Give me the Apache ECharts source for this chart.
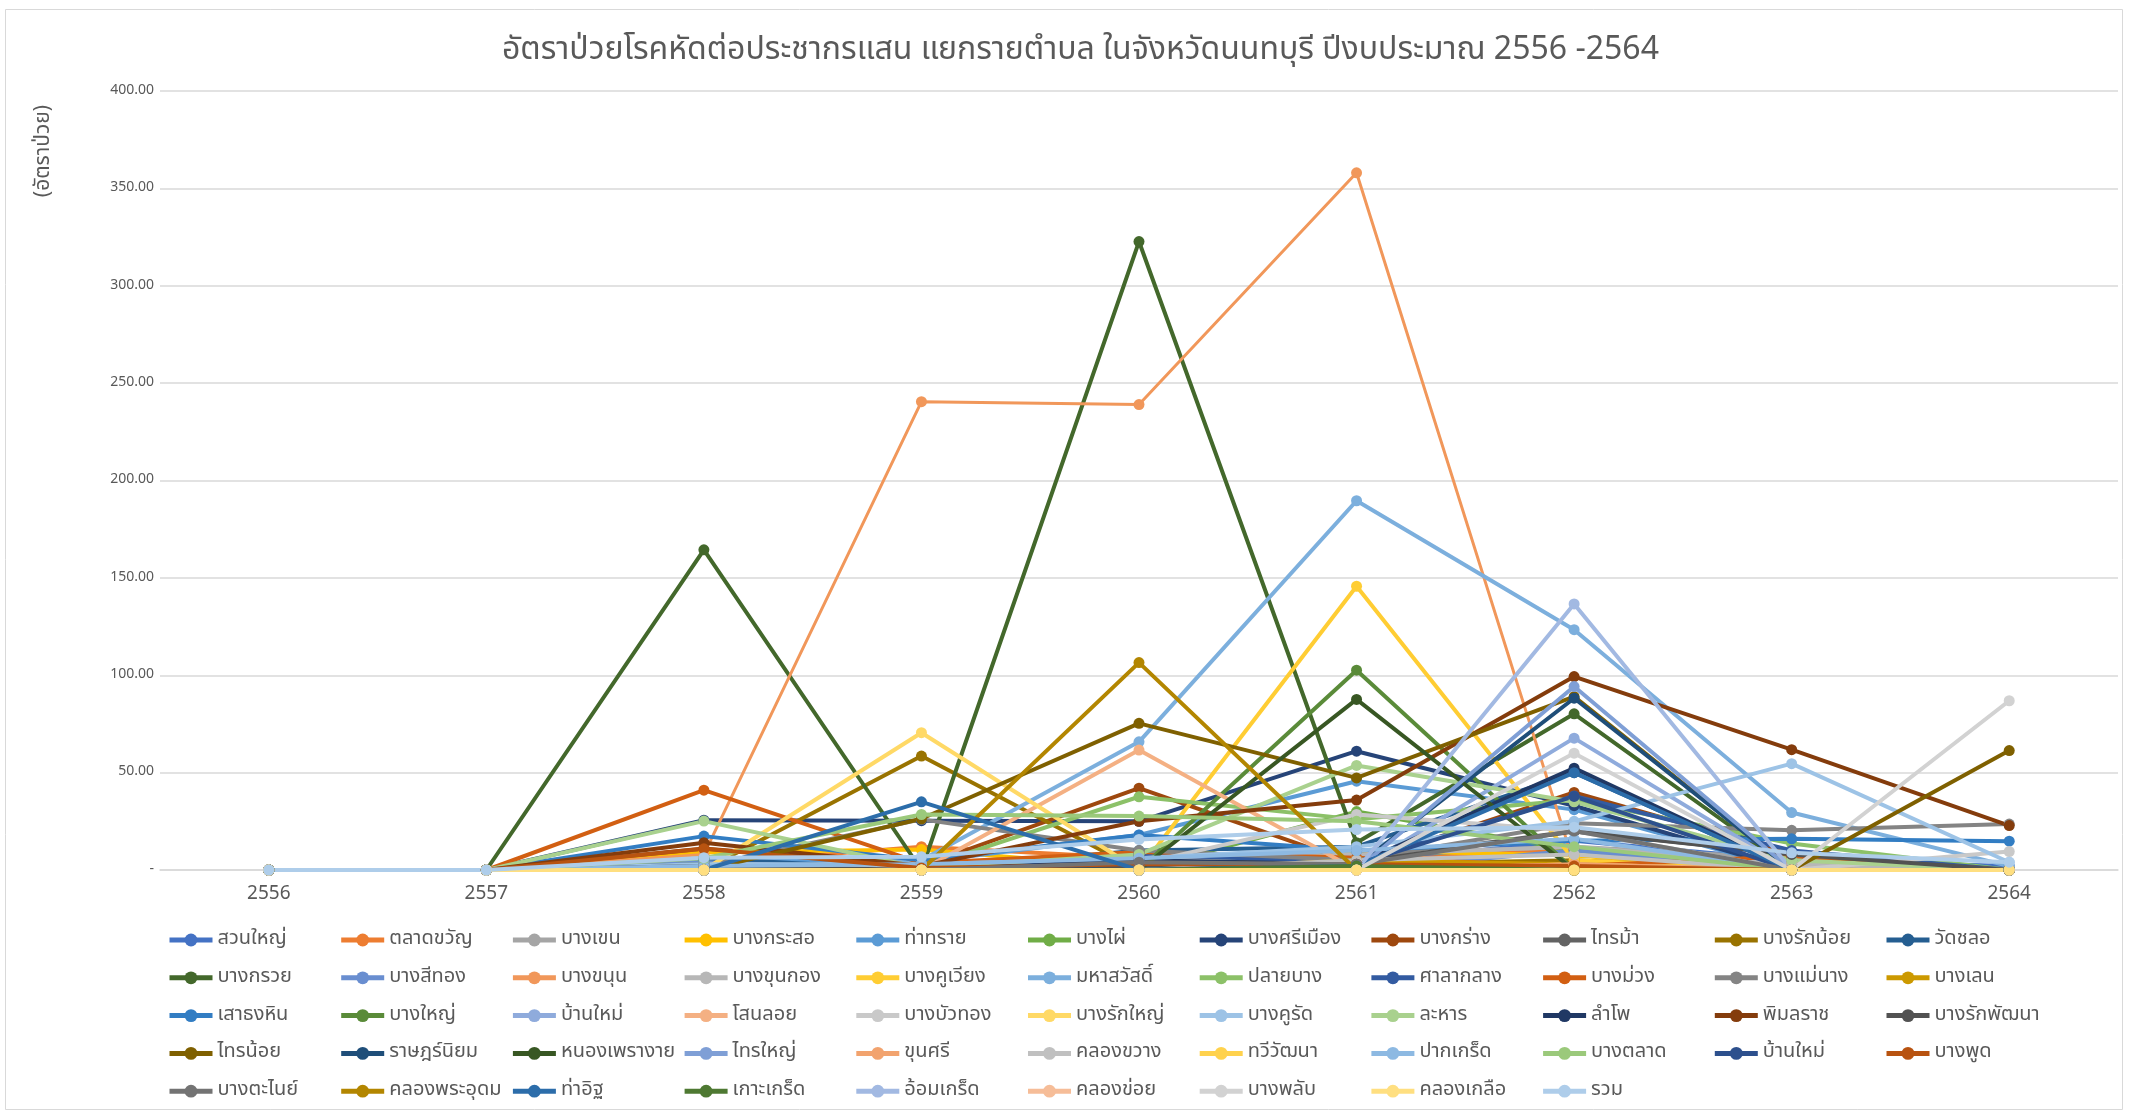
<!DOCTYPE html>
<html lang="th">
<head>
    <meta charset="UTF-8">
    <title>อัตราป่วยโรคหัด</title>
    <style>
      html, body { margin: 0; padding: 0; background: #fff; }
    </style>
</head>
<body>
<div style="width: 2129px;height: 1113px;" id="lineChart"></div>
<script src="https://cdn.jsdelivr.net/npm/echarts@6/dist/echarts.min.js"></script>
<script type="text/javascript">
  // ปีงบประมาณ
  const years = ['2556', '2557', '2558', '2559', '2560', '2561', '2562', '2563', '2564'];

  // ชื่อตำบล (ตามลำดับใน legend)
  const names = [
    'สวนใหญ่', 'ตลาดขวัญ', 'บางเขน', 'บางกระสอ', 'ท่าทราย', 'บางไผ่', 'บางศรีเมือง', 'บางกร่าง', 'ไทรม้า', 'บางรักน้อย', 'วัดชลอ',
    'บางกรวย', 'บางสีทอง', 'บางขนุน', 'บางขุนกอง', 'บางคูเวียง', 'มหาสวัสดิ์', 'ปลายบาง', 'ศาลากลาง', 'บางม่วง', 'บางแม่นาง', 'บางเลน',
    'เสาธงหิน', 'บางใหญ่', 'บ้านใหม่', 'โสนลอย', 'บางบัวทอง', 'บางรักใหญ่', 'บางคูรัด', 'ละหาร', 'ลำโพ', 'พิมลราช', 'บางรักพัฒนา',
    'ไทรน้อย', 'ราษฎร์นิยม', 'หนองเพรางาย', 'ไทรใหญ่', 'ขุนศรี', 'คลองขวาง', 'ทวีวัฒนา', 'ปากเกร็ด', 'บางตลาด', 'บ้านใหม่\u200B', 'บางพูด',
    'บางตะไนย์', 'คลองพระอุดม', 'ท่าอิฐ', 'เกาะเกร็ด', 'อ้อมเกร็ด', 'คลองข่อย', 'บางพลับ', 'คลองเกลือ', 'รวม'];

  // อัตราป่วยต่อประชากรแสน ปี 2556 - 2564
  const d01 = [0, 0, 5, 3, 8, 4, 15, 5, 2];          // สวนใหญ่
  const d02 = [0, 0, 3, 12, 6, 4, 11, 3, 0];         // ตลาดขวัญ
  const d03 = [0, 0, 4, 5, 3, 8, 12, 6, 0];          // บางเขน
  const d04 = [0, 0, 9, 10.5, 1, 10, 7.4, 0, 0];     // บางกระสอ
  const d05 = [0, 0, 6, 4, 18, 45.6, 31, 0, 0];      // ท่าทราย
  const d06 = [0, 0, 4, 0, 0, 30, 10, 0, 0];         // บางไผ่
  const d07 = [0, 0, 25.6, 25.3, 25, 61, 33, 0, 0];  // บางศรีเมือง
  const d08 = [0, 0, 11, 2, 42, 3, 39.8, 8, 0];      // บางกร่าง
  const d09 = [0, 0, 2, 0, 3, 5, 20, 8, 0];          // ไทรม้า
  const d10 = [0, 0, 0, 58.5, 0, 3, 5, 0, 0];        // บางรักน้อย
  const d11 = [0, 0, 6, 0, 10, 12, 50, 0, 0];        // วัดชลอ
  const d12 = [0, 0, 164.4, 0, 322.7, 14, 80.2, 0, 0]; // บางกรวย
  const d13 = [0, 0, 4, 0, 5, 0, 10, 0, 0];          // บางสีทอง
  const d14 = [0, 0, 8, 240.5, 239, 358, 3, 0, 0];   // บางขนุน
  const d15 = [0, 0, 3, 2, 5, 8, 12, 3, 0];          // บางขุนกอง
  const d16 = [0, 0, 0, 2, 0, 145.7, 5, 0, 0];       // บางคูเวียง
  const d17 = [0, 0, 0, 5, 65.8, 189.6, 123.4, 29.5, 2]; // มหาสวัสดิ์
  const d18 = [0, 0, 3, 1, 37.6, 26, 36, 13.6, 0];   // ปลายบาง
  const d19 = [0, 0, 3, 0, 8, 4, 38, 10, 0];         // ศาลากลาง
  const d20 = [0, 0, 41, 3.5, 9.2, 6.3, 2, 7, 0];    // บางม่วง
  const d21 = [0, 0, 2, 26, 10, 5, 24, 20.4, 23.6];  // บางแม่นาง
  const d22 = [0, 0, 0, 2, 0, 5, 3, 0, 0];           // บางเลน
  const d23 = [0, 0, 17.4, 5, 18, 10, 15, 16, 14.8]; // เสาธงหิน
  const d24 = [0, 0, 2, 0, 0, 102.6, 0, 0, 0];       // บางใหญ่
  const d25 = [0, 0, 0, 0, 3, 0, 67.7, 0, 0];        // บ้านใหม่
  const d26 = [0, 0, 2, 0, 61.6, 0, 3, 0, 0];        // โสนลอย
  const d27 = [0, 0, 0, 2, 3, 28.5, 20, 0, 9.5];     // บางบัวทอง
  const d28 = [0, 0, 0, 70.5, 0, 0, 0, 0, 0];        // บางรักใหญ่
  const d29 = [0, 0, 3, 3, 6, 12, 25, 54.6, 4];      // บางคูรัด
  const d30 = [0, 0, 25.1, 1, 8, 53.7, 35, 5, 0];    // ละหาร
  const d31 = [0, 0, 0, 0, 5, 3, 52.3, 0, 0];        // ลำโพ
  const d32 = [0, 0, 14, 2, 25, 35.9, 99.3, 61.8, 22.8]; // พิมลราช
  const d33 = [0, 0, 2, 0, 2, 4, 19.8, 8, 0];        // บางรักพัฒนา
  const d34 = [0, 0, 0, 26.3, 75.3, 47.3, 89, 0, 61.3]; // ไทรน้อย
  const d35 = [0, 0, 0, 0, 3, 2, 88.2, 0, 0];        // ราษฎร์นิยม
  const d36 = [0, 0, 0, 0, 0, 87.6, 0, 0, 0];        // หนองเพรางาย
  const d37 = [0, 0, 0, 0, 0, 0, 94.2, 0, 0];        // ไทรใหญ่
  const d38 = [0, 0, 0, 0, 0, 0, 3, 0, 0];           // ขุนศรี
  const d39 = [0, 0, 0, 0, 0, 5, 8, 0, 0];           // คลองขวาง
  const d40 = [0, 0, 0, 0, 0, 0, 0, 0, 0];           // ทวีวัฒนา
  const d41 = [0, 0, 2, 3, 6, 10, 16, 0, 0];         // ปากเกร็ด
  const d42 = [0, 0, 6, 28.5, 27.7, 25, 12, 0, 0];   // บางตลาด
  const d43 = [0, 0, 0, 0, 0, 3, 37.8, 0, 0];        // บ้านใหม่ (2)
  const d44 = [0, 0, 10.9, 1, 3, 3, 2, 0, 0];        // บางพูด
  const d45 = [0, 0, 0, 0, 4, 3, 20, 0, 0];          // บางตะไนย์
  const d46 = [0, 0, 0, 0, 106.5, 0, 0, 0, 0];       // คลองพระอุดม
  const d47 = [0, 0, 0, 35, 0, 2, 50, 0, 0];         // ท่าอิฐ
  const d48 = [0, 0, 0, 0, 0, 2, 0, 0, 0];           // เกาะเกร็ด
  const d49 = [0, 0, 0, 0, 0, 0, 136.6, 0, 0];       // อ้อมเกร็ด
  const d50 = [0, 0, 0, 0, 0, 0, 0, 0, 0];           // คลองข่อย
  const d51 = [0, 0, 0, 0, 0, 0, 60, 0, 86.9];       // บางพลับ
  const d52 = [0, 0, 0, 0, 0, 0, 0, 0, 0];           // คลองเกลือ
  const d53 = [0, 0, 6.3, 6.8, 15.7, 20.8, 22, 8.8, 4]; // รวม

  const values = [
    d01, d02, d03, d04, d05, d06, d07, d08, d09, d10, d11,
    d12, d13, d14, d15, d16, d17, d18, d19, d20, d21, d22,
    d23, d24, d25, d26, d27, d28, d29, d30, d31, d32, d33,
    d34, d35, d36, d37, d38, d39, d40, d41, d42, d43, d44,
    d45, d46, d47, d48, d49, d50, d51, d52, d53];

  // สีชุดข้อมูลแบบ Office
  const colors = [
    '#4472C4', '#ED7D31', '#A5A5A5', '#FFC000', '#5B9BD5', '#70AD47',
    '#264478', '#9E480E', '#636363', '#997300', '#255E91', '#43682B',
    '#698ED0', '#F1975A', '#B7B7B7', '#FFCD33', '#7CAFDD', '#8CC168',
    '#335BA1', '#D25F12', '#848484', '#CC9900', '#327DC3', '#5A8B39',
    '#8FABDC', '#F4B083', '#C9C9C9', '#FFD966', '#9DC3E6', '#A9D18E',
    '#203864', '#843C0C', '#525252', '#7F6000', '#1F4E79', '#385723',
    '#7F9FD6', '#F2A36E', '#C0C0C0', '#FFD24D', '#8DB9E2', '#9BC97B',
    '#2D508D', '#B85310', '#737373', '#B38600', '#2C6DAA', '#4E7932',
    '#A2B9E2', '#F6BD98', '#D2D2D2', '#FFDF80', '#AECDEA'];

  const FONT = "'Noto Sans Thai', 'Noto Sans', 'DejaVu Sans', sans-serif";
  const TEXT_COLOR = '#595959';

  function buildSeries() {
    const list = [];
    for (let i = 0; i < names.length; i++) {
      list.push({
        name: names[i],
        type: 'line',
        data: values[i],
        symbol: 'circle',
        symbolSize: 11,
        color: colors[i],
        lineStyle: {width: i === 13 ? 3 : 4, color: colors[i]},
        itemStyle: {color: colors[i]},
        emphasis: {disabled: true},
      });
    }
    return list;
  }

  // legend แบ่งเป็นคอลัมน์ละ 5 แถว เพื่อให้ตรงตามตาราง
  function buildLegends() {
    const cols = 11;
    const list = [];
    for (let c = 0; c < cols; c++) {
      const data = [];
      for (let r = 0; r < 5; r++) {
        const idx = r * cols + c;
        if (idx < names.length) data.push(names[idx]);
      }
      list.push({
        orient: 'vertical',
        left: 167 + c * 171.7,
        top: 930,
        height: 300,
        itemWidth: 43,
        itemHeight: 16,
        itemGap: 17.8,
        padding: 0,
        selectedMode: false,
        lineStyle: {width: 5},
        textStyle: {
          fontFamily: FONT, fontSize: 20, color: TEXT_COLOR,
        },
        data: data,
      });
    }
    return list;
  }

  const option = {
    animation: false,
    backgroundColor: '#fff',
    title: {
      text: 'อัตราป่วยโรคหัดต่อประชากรแสน แยกรายตำบล ในจังหวัดนนทบุรี ปีงบประมาณ 2556 -2564',
      left: 497,
      top: 32,
      textStyle: {fontFamily: FONT, fontSize: 32, fontWeight: 'normal', color: TEXT_COLOR},
    },
    graphic: [
      {
        type: 'rect',
        shape: {x: 5.5, y: 9.5, width: 2117, height: 1100},
        style: {fill: 'none', stroke: '#D9D9D9', lineWidth: 1},
        silent: true,
      },
      {
        type: 'text',
        x: 45,
        y: 151,
        rotation: Math.PI / 2,
        style: {
          text: '(อัตราป่วย)',
          fontFamily: FONT,
          fontSize: 21,
          fill: TEXT_COLOR,
          textAlign: 'center',
          textVerticalAlign: 'middle',
        },
      },
    ],
    legend: buildLegends(),
    grid: {left: 160, right: 11, top: 91, bottom: 243},
    xAxis: {
      type: 'category',
      data: years,
      boundaryGap: true,
      axisTick: {show: false},
      axisLine: {lineStyle: {color: '#D9D9D9', width: 1.5}},
      axisLabel: {fontFamily: FONT, fontSize: 19, color: TEXT_COLOR, margin: 16},
    },
    yAxis: {
      type: 'value',
      min: 0,
      max: 400,
      interval: 50,
      axisLine: {show: false},
      axisTick: {show: false},
      splitLine: {lineStyle: {color: '#D9D9D9', width: 1.5}},
      axisLabel: {
        fontFamily: FONT, fontSize: 14, color: TEXT_COLOR, margin: 6,
        formatter: function(v) {
          return v === 0 ? '-' : v.toFixed(2);
        },
      },
    },
    series: buildSeries(),
  };

  const chart = echarts.init(document.getElementById('lineChart'));
  chart.setOption(option);
</script>
</body>
</html>
